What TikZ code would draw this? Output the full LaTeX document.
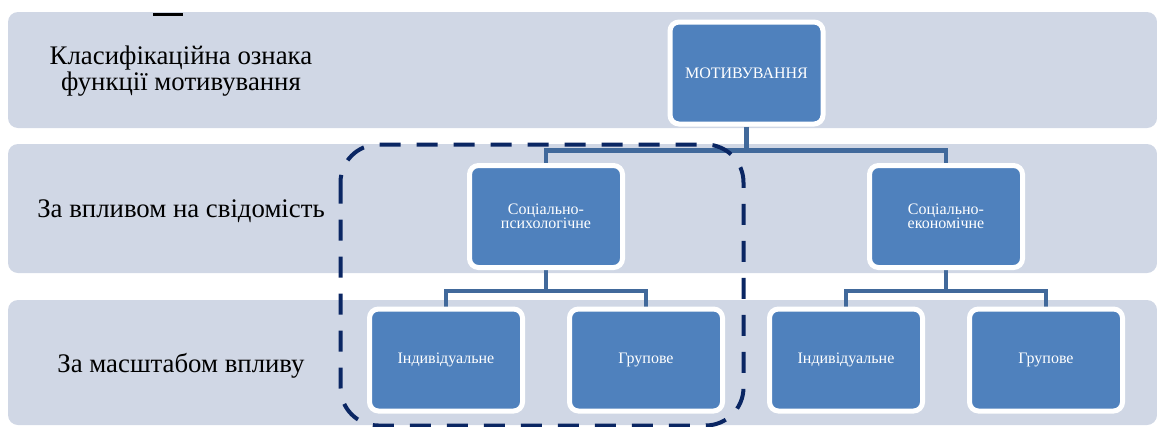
\documentclass[tikz,border=0pt]{standalone}
\usepackage{fontspec}
\setmainfont{Liberation Serif}
\definecolor{bandc}{HTML}{D0D7E5}
\definecolor{boxc}{HTML}{4F81BD}
\definecolor{connc}{HTML}{41699B}
\definecolor{navy}{HTML}{0A2663}
\pgfdeclarelayer{bandlayer}
\pgfdeclarelayer{connlayer}
\pgfsetlayers{bandlayer,connlayer,main}
\tikzset{
  band/.style={fill=bandc, draw=none, rounded corners=10pt},
  blockbox/.style={draw=white, line width=5pt, fill=boxc, rounded corners=9pt,
    minimum width=153pt, minimum height=102pt, inner sep=2pt, align=center,
    text=white, font=\fontsize{16}{14.5}\selectfont},
  conn/.style={draw=connc, line width=4.5pt},
  rowlabel/.style={align=center, text=black, font=\fontsize{26.8}{26}\selectfont},
  groupframe/.style={draw=navy, line width=4pt, dash pattern=on 21pt off 16pt, rounded corners=38pt}
}
\begin{document}
\begin{tikzpicture}[x=1pt,y=-1pt]
\useasboundingbox (0,0) rectangle (1157,426);
% bands
\begin{pgfonlayer}{bandlayer}
\fill[band] (8,12) rectangle (1157,128);
\fill[band] (8,144) rectangle (1157,273);
\fill[band] (8,300) rectangle (1157,425);
\end{pgfonlayer}
% stray mark
\draw[black, line width=2.7pt] (153,14.5) -- (183,14.5);
% row labels
\node[rowlabel] (l1) at (181,71) {Класифікаційна ознака\\функції мотивування};
\node[rowlabel] (l2) at (181,211) {За впливом на свідомість};
\node[rowlabel] (l3) at (181,366) {За масштабом впливу};
% boxes
\node[blockbox] (mot) at (746.5,73) {МОТИВУВАННЯ};
\node[blockbox] (sp) at (546,216.5) {Соціально-\\психологічне};
\node[blockbox] (se) at (946,216.5) {Соціально-\\економічне};
\node[blockbox] (i1) at (446,360) {Індивідуальне};
\node[blockbox] (g1) at (646,360) {Групове};
\node[blockbox] (i2) at (846,360) {Індивідуальне};
\node[blockbox] (g2) at (1046,360) {Групове};
% connectors
\begin{pgfonlayer}{connlayer}
\draw[conn] (mot.south) -- ++(0,24) -| (sp.north);
\draw[conn] (mot.south) -- ++(0,24) -| (se.north);
\draw[conn] (sp.south) -- ++(0,21) -| (i1.north);
\draw[conn] (sp.south) -- ++(0,21) -| (g1.north);
\draw[conn] (se.south) -- ++(0,21) -| (i2.north);
\draw[conn] (se.south) -- ++(0,21) -| (g2.north);
\end{pgfonlayer}
% dashed group frame
\draw[groupframe] (340.5,144.5) rectangle (743.5,425.5);
\end{tikzpicture}
\end{document}
